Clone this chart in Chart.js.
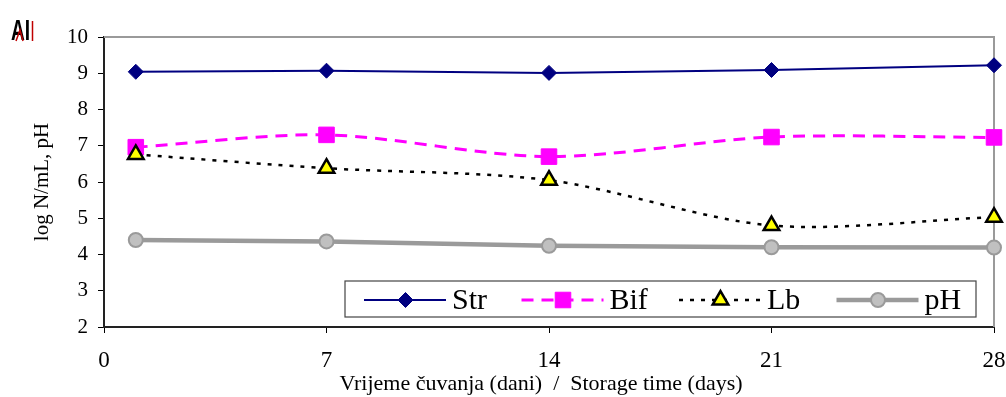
<!DOCTYPE html>
<html>
<head>
<meta charset="utf-8">
<script src="https://cdn.jsdelivr.net/npm/chart.js@4.4.1/dist/chart.umd.min.js"></script>
<style>
  html, body { margin: 0; padding: 0; background: #ffffff; }
  #wrap { width: 1006px; height: 397px; position: relative; }
</style>
</head>
<body>
<div id="wrap"><canvas id="c" width="1006" height="397"></canvas></div>
<script>
// Storage time (days) at which samples were measured
const days = [1, 7, 14, 21, 28];
// Counts (log N/mL) and pH for each series
const strValues = [9.04, 9.07, 9.01, 9.09, 9.22];
const bifValues = [6.96, 7.30, 6.70, 7.24, 7.23];
const lbValues  = [6.76, 6.38, 6.05, 4.80, 5.03];
const phValues  = [4.40, 4.36, 4.24, 4.20, 4.19];
const seriesNames = ['Str', 'Bif', 'Lb', 'pH'];
const xTicks = [0, 7, 14, 21, 28];
const yTicks = [2, 3, 4, 5, 6, 7, 8, 9, 10];
const xTitle = 'Vrijeme čuvanja (dani)  /  Storage time (days)';
const yTitle = 'log N/mL, pH';

const SERIF = '"Liberation Serif", "Times New Roman", serif';

function pts(vals) { return days.map((d, i) => ({ x: d, y: vals[i] })); }

// Draws one marker for the legend sample, mirroring the dataset point style
function drawMarker(ctx, ds, x, y) {
  const r = ds.pointRadius;
  ctx.save();
  ctx.fillStyle = ds.pointBackgroundColor;
  ctx.strokeStyle = ds.pointBorderColor;
  ctx.lineWidth = ds.pointBorderWidth;
  ctx.setLineDash([]);
  ctx.beginPath();
  if (ds.pointStyle === 'rectRot') {
    ctx.moveTo(x, y - r); ctx.lineTo(x + r, y); ctx.lineTo(x, y + r); ctx.lineTo(x - r, y);
    ctx.closePath();
  } else if (ds.pointStyle === 'rect') {
    const h = r * Math.SQRT1_2;
    ctx.rect(x - h, y - h, 2 * h, 2 * h);
  } else if (ds.pointStyle === 'triangle') {
    const a = 2 * Math.PI / 3;
    ctx.moveTo(x, y - r);
    ctx.lineTo(x + Math.sin(a) * r, y - Math.cos(a) * r);
    ctx.lineTo(x + Math.sin(2 * a) * r, y - Math.cos(2 * a) * r);
    ctx.closePath();
  } else {
    ctx.arc(x, y, r, 0, Math.PI * 2);
  }
  ctx.fill();
  if (ds.pointBorderWidth > 0) ctx.stroke();
  ctx.restore();
}

// Frame (gray top/right edges) drawn under the data
const framePlugin = {
  id: 'frame',
  beforeDatasetsDraw(chart) {
    const { ctx, chartArea: a } = chart;
    ctx.save();
    ctx.strokeStyle = '#9a9a9a';
    ctx.lineWidth = 2;
    ctx.beginPath();
    ctx.moveTo(a.left, a.top);
    ctx.lineTo(a.right, a.top);
    ctx.lineTo(a.right, a.bottom);
    ctx.stroke();
    ctx.restore();
  }
};

// Boxed legend with line + marker samples, x-axis caption and corner label
const legendPlugin = {
  id: 'boxLegend',
  afterDraw(chart) {
    const ctx = chart.ctx;
    ctx.save();
    // legend box
    ctx.fillStyle = '#ffffff';
    ctx.fillRect(345, 281, 631, 36);
    ctx.strokeStyle = '#444444';
    ctx.lineWidth = 1.2;
    ctx.strokeRect(345, 281, 631, 36);
    const cy = 300;
    chart.data.datasets.forEach((ds, i) => {
      const x0 = 364 + i * 157.5;
      const len = 82;
      ctx.save();
      ctx.strokeStyle = ds.borderColor;
      ctx.lineWidth = ds.borderWidth;
      ctx.setLineDash(ds.borderDash || []);
      ctx.beginPath();
      ctx.moveTo(x0, cy);
      ctx.lineTo(x0 + len, cy);
      ctx.stroke();
      ctx.restore();
      drawMarker(ctx, ds, x0 + len / 2 + 0.5, cy);
      ctx.fillStyle = '#000000';
      ctx.font = '30px ' + SERIF;
      ctx.textBaseline = 'middle';
      ctx.textAlign = 'left';
      ctx.fillText(ds.label, x0 + 88, cy + 1);
    });
    // x-axis caption
    ctx.fillStyle = '#000000';
    ctx.font = '22px ' + SERIF;
    ctx.textAlign = 'center';
    ctx.textBaseline = 'middle';
    ctx.fillText(xTitle, 541, 384);
    // corner label
    ctx.textAlign = 'left';
    ctx.font = 'bold 29px "Liberation Sans", Arial, sans-serif';
    ctx.textBaseline = 'alphabetic';
    ctx.save();
    ctx.translate(11, 40);
    ctx.scale(0.66, 1);
    ctx.fillText('AI', 0, 0);
    ctx.restore();
    ctx.strokeStyle = '#c00000';
    ctx.lineWidth = 1.5;
    ctx.beginPath();
    ctx.moveTo(16, 41); ctx.lineTo(20, 30); ctx.lineTo(23, 41);
    ctx.moveTo(32.5, 21); ctx.lineTo(32.5, 41);
    ctx.stroke();
    ctx.restore();
  }
};

const datasets = [
  {
    label: seriesNames[0], data: pts(strValues), order: 4,
    borderColor: '#000080', borderWidth: 2, tension: 0,
    pointStyle: 'rectRot', pointRadius: 7.5,
    pointBackgroundColor: '#000080', pointBorderColor: '#000080', pointBorderWidth: 1
  },
  {
    label: seriesNames[1], data: pts(bifValues), order: 3,
    borderColor: '#ff00ff', borderWidth: 3, borderDash: [12, 8], tension: 0.3,
    pointStyle: 'rect', pointRadius: 11,
    pointBackgroundColor: '#ff00ff', pointBorderColor: '#ff00ff', pointBorderWidth: 1
  },
  {
    label: seriesNames[2], data: pts(lbValues), order: 2,
    borderColor: '#000000', borderWidth: 2.5, borderDash: [4, 7], tension: 0.3,
    pointStyle: 'triangle', pointRadius: 9,
    pointBackgroundColor: '#ffff00', pointBorderColor: '#000000', pointBorderWidth: 2.5
  },
  {
    label: seriesNames[3], data: pts(phValues), order: 1,
    borderColor: '#9a9a9a', borderWidth: 4.5, tension: 0,
    pointStyle: 'circle', pointRadius: 7,
    pointBackgroundColor: '#c0c0c0', pointBorderColor: '#9a9a9a', pointBorderWidth: 2
  }
];

new Chart(document.getElementById('c'), {
  type: 'line',
  data: { datasets },
  options: {
    responsive: false,
    animation: false,
    events: [],
    layout: { padding: { top: 37, right: 12, bottom: 0, left: 0 } },
    plugins: { legend: { display: false }, tooltip: { enabled: false } },
    elements: { line: { fill: false }, point: { hoverRadius: 0 } },
    datasets: { line: { clip: false } },
    scales: {
      x: {
        type: 'linear', min: xTicks[0], max: xTicks[xTicks.length - 1],
        afterBuildTicks(s) { s.ticks = xTicks.map(v => ({ value: v })); },
        afterFit(s) { s.height = 70; s.paddingLeft = 0; s.paddingRight = 0; },
        grid: { drawOnChartArea: false, drawTicks: true, tickLength: 6, color: '#000000', lineWidth: 1 },
        border: { display: true, color: '#222222', width: 2 },
        ticks: { color: '#000000', padding: 14, maxRotation: 0, font: { family: SERIF, size: 23 } },
        title: { display: false }
      },
      y: {
        type: 'linear', min: yTicks[0], max: yTicks[yTicks.length - 1],
        afterBuildTicks(s) { s.ticks = yTicks.map(v => ({ value: v })); },
        afterFit(s) { s.width = 104; s.paddingTop = 0; s.paddingBottom = 0; },
        grid: { drawOnChartArea: false, drawTicks: true, tickLength: 6, color: '#000000', lineWidth: 1 },
        border: { display: true, color: '#222222', width: 2 },
        ticks: { color: '#000000', padding: 10, font: { family: SERIF, size: 21 } },
        title: { display: true, text: yTitle, color: '#000000', padding: { top: 30, bottom: 0 }, font: { family: SERIF, size: 21 } }
      }
    }
  },
  plugins: [framePlugin, legendPlugin]
});
</script>
</body>
</html>
